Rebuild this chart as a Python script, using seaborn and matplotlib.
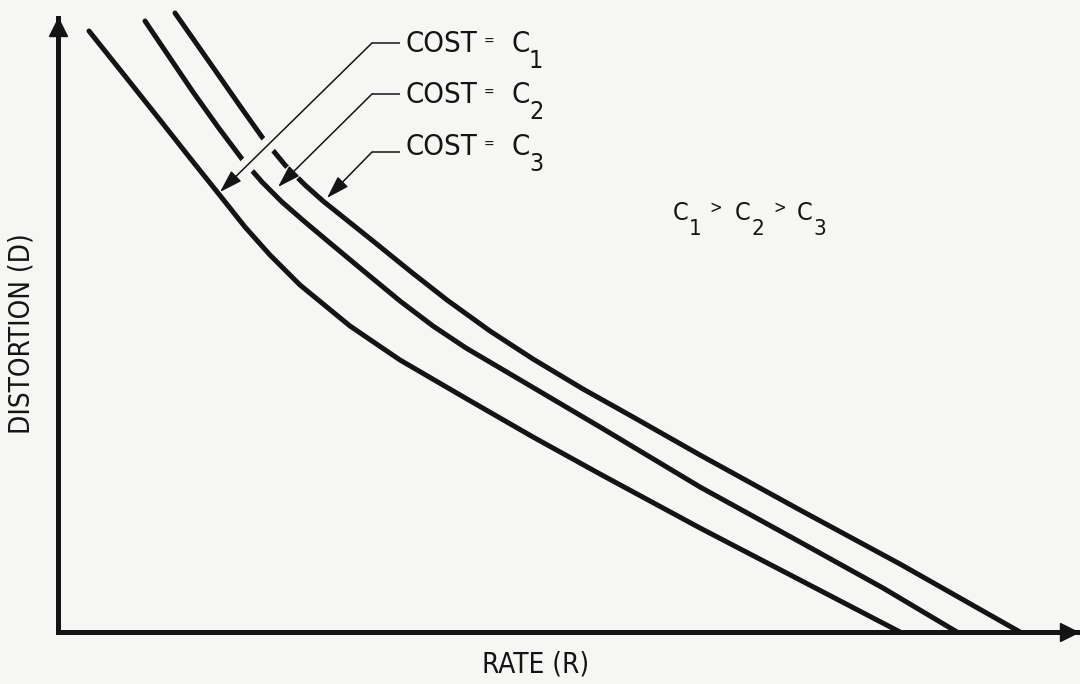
import matplotlib
matplotlib.use("Agg")
import matplotlib.pyplot as plt
import pandas as pd
import seaborn as sns

# Rate-distortion curves for three cost levels (C1 > C2 > C3)
rate_c1 = [0.31, 0.67, 1.02, 1.32, 1.64, 1.87, 2.12, 2.42, 2.92, 3.42, 4.09,
           4.75, 5.42, 6.42, 7.42, 8.42]
dist_c1 = [6.01, 5.56, 5.12, 4.74, 4.34, 4.05, 3.77, 3.47, 3.06, 2.72, 2.33,
           1.95, 1.58, 1.04, 0.52, 0.00]

rate_c2 = [0.87, 1.12, 1.35, 1.60, 1.84, 2.04, 2.24, 2.47, 2.72, 3.02, 3.42,
           3.75, 4.08, 4.42, 5.42, 6.42, 7.42, 8.25, 8.99]
dist_c2 = [6.11, 5.74, 5.40, 5.05, 4.73, 4.50, 4.30, 4.10, 3.89, 3.64, 3.31,
           3.06, 2.84, 2.64, 2.05, 1.45, 0.90, 0.44, 0.00]

rate_c3 = [1.17, 1.38, 1.59, 1.82, 2.04, 2.27, 2.47, 2.65, 2.90, 3.15, 3.52,
           3.89, 4.32, 4.75, 5.25, 5.75, 6.42, 7.42, 8.42, 9.62]
dist_c3 = [6.19, 5.89, 5.59, 5.26, 4.95, 4.67, 4.47, 4.31, 4.11, 3.91, 3.61,
           3.32, 3.01, 2.73, 2.43, 2.15, 1.77, 1.22, 0.68, 0.00]

cost_names = ["C1", "C2", "C3"]
cost_subscripts = ["1", "2", "3"]
x_label = "RATE (R)"
y_label = "DISTORTION (D)"

INK = "#141414"
PAPER = "#f6f6f4"

df = pd.concat(
    [
        pd.DataFrame({"rate": r, "distortion": d, "cost": c})
        for r, d, c in zip([rate_c1, rate_c2, rate_c3],
                           [dist_c1, dist_c2, dist_c3], cost_names)
    ],
    ignore_index=True,
)

sns.set_theme(style="white")
plt.rcParams["font.family"] = ["DejaVu Sans"]
plt.rcParams["font.stretch"] = "condensed"

fig = plt.figure(figsize=(10.8, 6.84), dpi=100, facecolor=PAPER)
ax = fig.add_axes([58 / 1080, 52 / 684, 1020 / 1080, 614 / 684])
ax.set_facecolor(PAPER)
ax.set_xlim(0, 10.20)
ax.set_ylim(0, 6.14)

sns.lineplot(
    data=df, x="rate", y="distortion", hue="cost",
    estimator=None, sort=False, palette=[INK] * 3, legend=False,
    linewidth=3.6, ax=ax, zorder=2,
)
for line in ax.lines:
    line.set_clip_on(False)
    line.set_solid_capstyle("round")
    line.set_solid_joinstyle("round")

# axes drawn as heavy arrows
for side in ["top", "right"]:
    ax.spines[side].set_visible(False)
for side in ["left", "bottom"]:
    ax.spines[side].set_linewidth(3.6)
    ax.spines[side].set_color(INK)
    ax.spines[side].set_zorder(5)
ax.set_xticks([])
ax.set_yticks([])
ax.set_xlabel("")
ax.set_ylabel("")
ax.plot(10.11, 0, marker=">", ms=13, color=INK, clip_on=False, zorder=6)
ax.plot(0, 6.05, marker="^", ms=13, color=INK, clip_on=False, zorder=6)

# callouts: horizontal stub, then a diagonal leader ending in an arrowhead
label_baselines = [5.80, 5.29, 4.77]
stub_heights = [5.89, 5.38, 4.80]
arrow_tips = [(1.62, 4.40), (2.20, 4.45), (2.69, 4.34)]
gap_stops = [20, 12, None]  # leaders that cut through other curves

for i, sub in enumerate(cost_subscripts):
    yb = label_baselines[i]
    ys = stub_heights[i]
    ax.plot([3.14, 3.42], [ys, ys], color=INK, lw=1.1, zorder=4,
            solid_capstyle="butt")
    tx, ty = arrow_tips[i]
    if gap_stops[i] is not None:
        dx, dy = tx - 3.14, ty - ys
        length = (dx ** 2 + dy ** 2) ** 0.5
        frac = 1 - gap_stops[i] / 100 / length
        ax.plot([3.14, 3.14 + dx * frac], [ys, ys + dy * frac], color=PAPER,
                lw=11, zorder=3, solid_capstyle="butt")
    ax.annotate(
        "", xy=(tx, ty), xytext=(3.14, ys),
        arrowprops=dict(arrowstyle="-|>,head_length=0.7,head_width=0.22",
                        mutation_scale=20, color=INK, lw=1.1,
                        shrinkA=0, shrinkB=0),
        zorder=4,
    )
    ax.text(3.47, yb, "COST", fontsize=21, color=INK, ha="left", va="baseline")
    ax.text(4.31, yb + 0.06, "=", fontsize=10, color=INK, ha="center",
            va="baseline")
    ax.text(4.53, yb, "C", fontsize=21, color=INK, ha="left", va="baseline")
    ax.text(4.71, yb - 0.16, sub, fontsize=18, color=INK, ha="left",
            va="baseline")

# ordering of the cost levels
for cx, sub in zip([6.15, 6.77, 7.39], cost_subscripts):
    ax.text(cx, 4.12, "C", fontsize=18, color=INK, ha="left", va="baseline")
    ax.text(cx + 0.16, 3.97, sub, fontsize=16, color=INK, ha="left",
            va="baseline")
for gx in [6.58, 7.22]:
    ax.text(gx, 4.24, ">", fontsize=12, color=INK, ha="center", va="center")

# axis titles
ax.text(4.78, -0.41, x_label, fontsize=20, color=INK, ha="center",
        va="baseline")
ax.text(-0.36, 2.98, y_label, fontsize=20, color=INK, ha="center",
        va="center", rotation=90)

fig.savefig("out.png", dpi=100, facecolor=PAPER)
